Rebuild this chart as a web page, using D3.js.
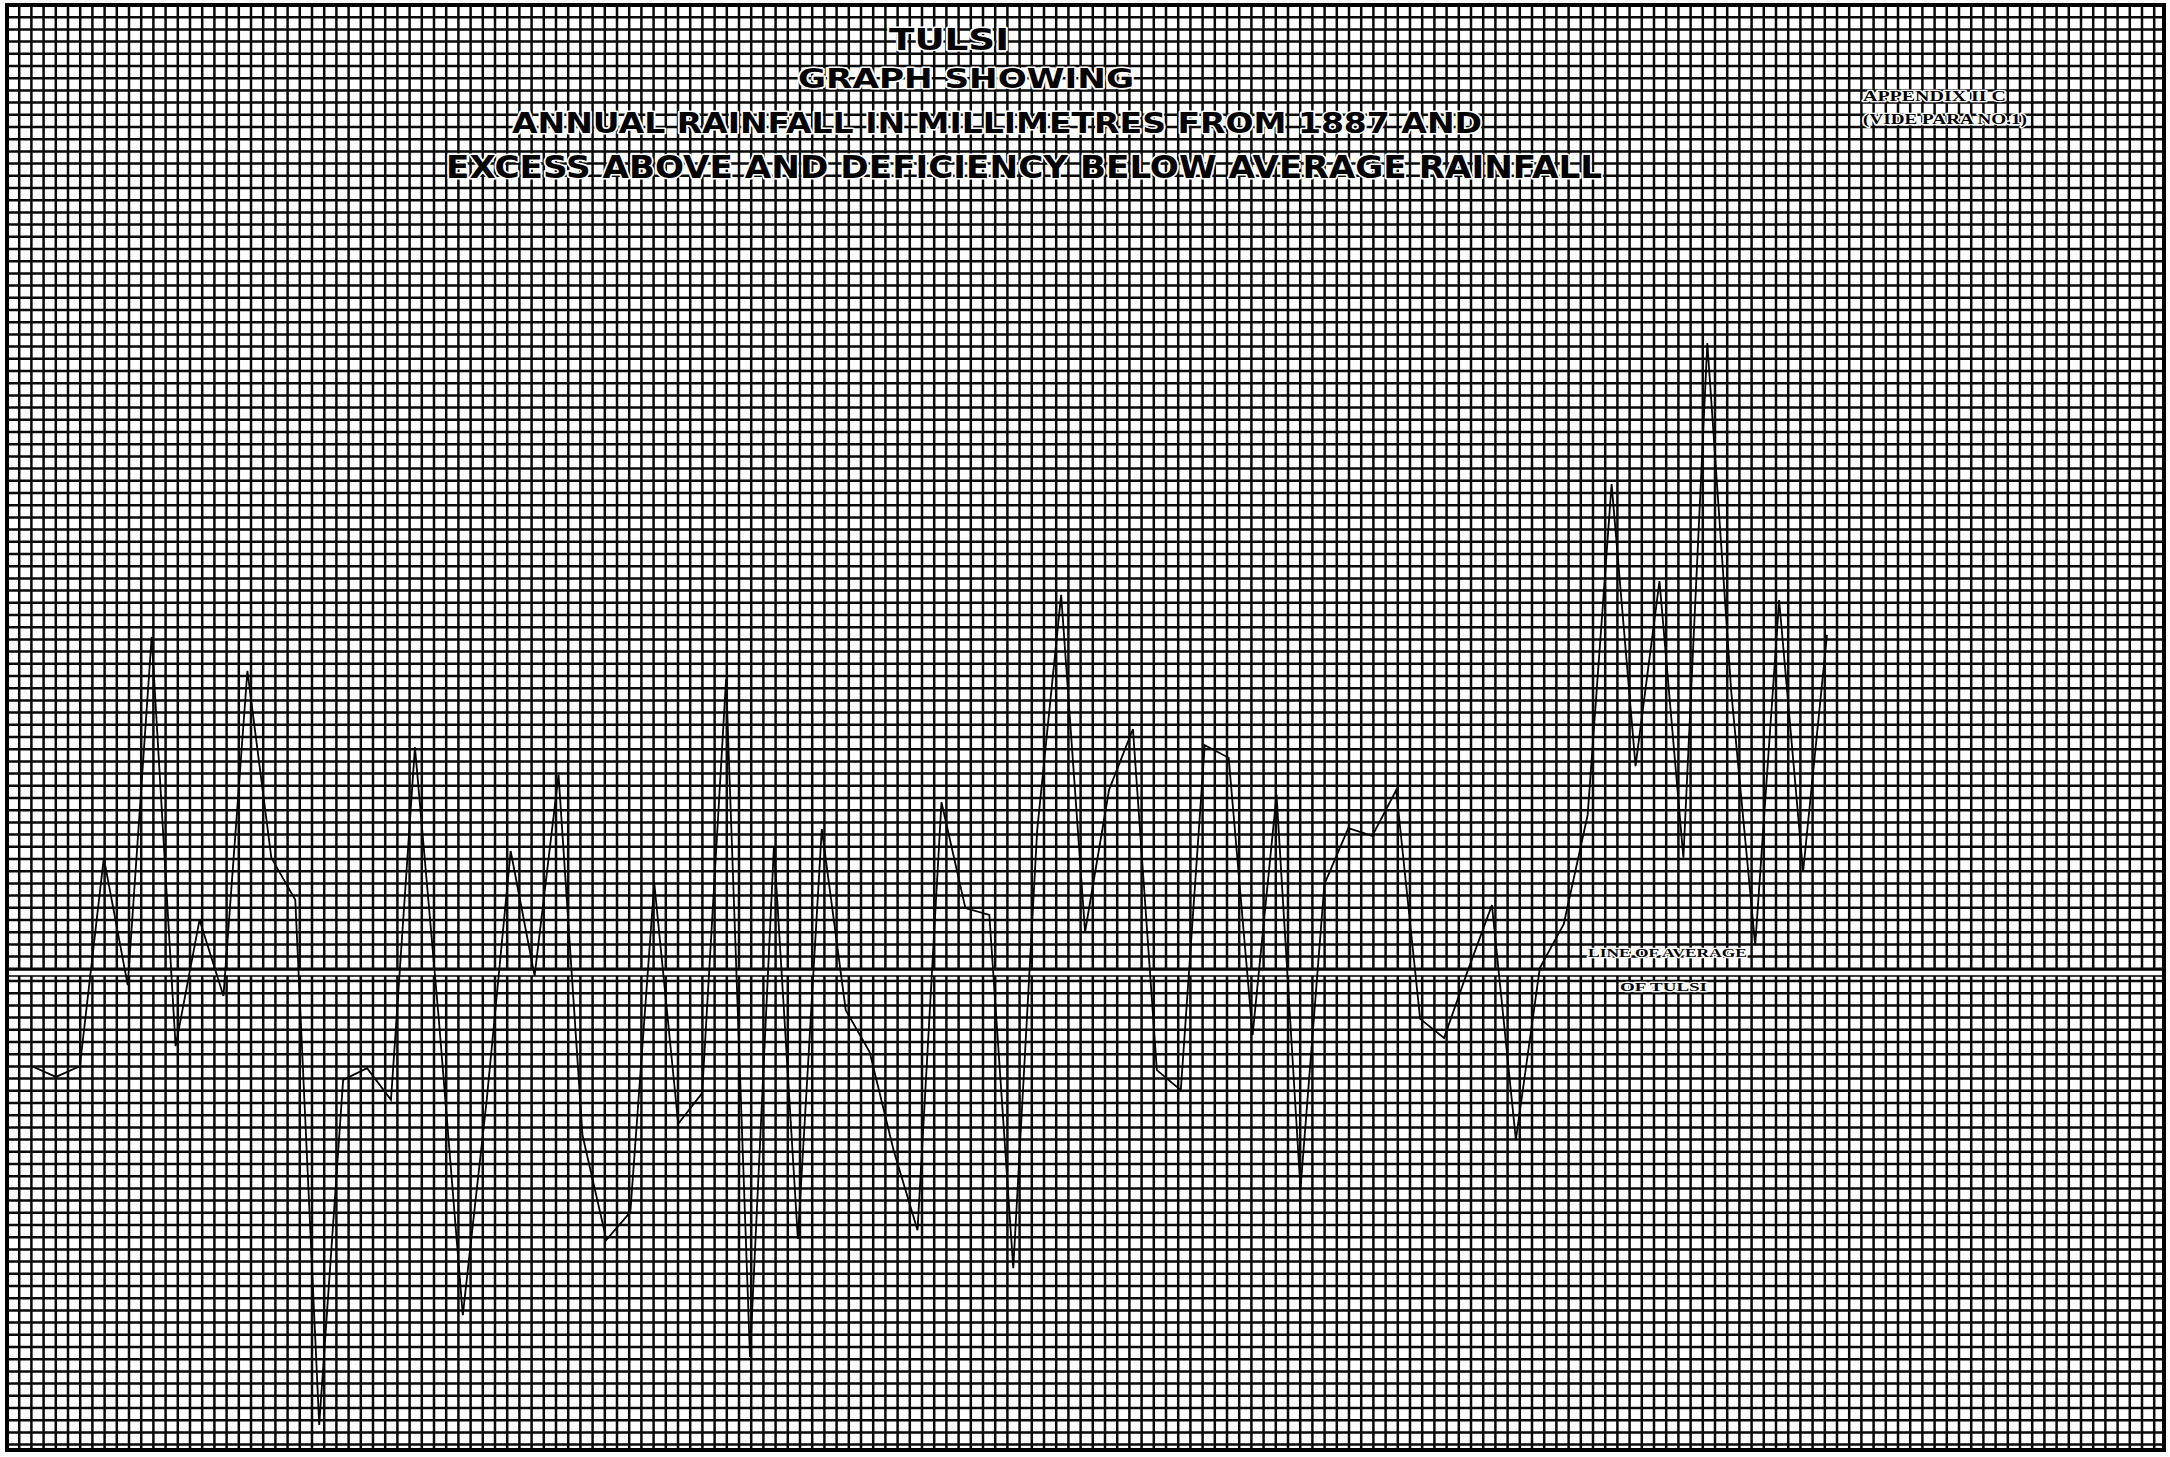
<!DOCTYPE html>
<html><head><meta charset="utf-8">
<script src="https://cdn.jsdelivr.net/npm/d3@7/dist/d3.min.js"></script>
<style>html,body{margin:0;padding:0;background:#fff;overflow:hidden}svg{display:block}</style>
</head><body>
<svg id="chart" width="2170" height="1457"></svg>
<script>
// ---- data (annual rainfall at Tulsi, mm) ----
const years = [1887,1888,1889,1890,1891,1892,1893,1894,1895,1896,1897,1898,1899,1900,1901,1902,1903,1904,1905,1906,
  1907,1908,1909,1910,1911,1912,1913,1914,1915,1916,1917,1918,1919,1920,1921,1922,1923,1924,1925,1926,
  1927,1928,1929,1930,1931,1932,1933,1934,1935,1936,1937,1938,1939,1940,1941,1942,1943,1944,1945,1946,
  1947,1948,1949,1950,1951,1952,1953,1954,1955,1956,1957,1958,1959,1960,1961,1962];
const rainfall = [2309,2287,2309,2736,2475,3189,2350,2609,2453,3119,2736,2650,1574,2281,2305,2240,2963,2404,1799,2240,
  2750,2494,2906,2168,1953,2010,2684,2191,2254,3102,1713,2760,1955,2795,2424,2338,2137,1973,2850,2633,
  2619,1895,2793,3275,2584,2875,3000,2301,2260,2967,2941,2373,2865,2057,2682,2797,2781,2875,2406,2367,
  2506,2639,2158,2510,2600,2824,3502,2924,3303,2736,3791,3076,2557,3264,2707,3193];
const averageRainfall = 2500;
const titleLines = ["TULSI", "GRAPH SHOWING", "ANNUAL RAINFALL IN MILLIMETRES FROM 1887 AND",
  "EXCESS  ABOVE AND DEFICIENCY  BELOW AVERAGE  RAINFALL"];
const appendixLines = ["APPENDIX  II C", "(VIDE PARA NO.1)"];
const averageLabels = ["LINE  OF  AVERAGE", "OF TULSI"];

// ---- layout ----
const W = 2170, H = 1457;
const frame = {x0: 7, y0: 5, x1: 2164, y1: 1450};
const cell = 12.2;
const svg = d3.select("#chart");

const x = d3.scaleLinear().domain([1887, 1962]).range([32, 1827]);
const y = d3.scaleLinear().domain([1500, 4500]).range([973 + 1000 * cell / 25, 973 - 2000 * cell / 25]);

svg.append("rect").attr("width", W).attr("height", H).attr("fill", "#fff");

// graph paper grid
const gridX = d3.range(frame.x0 + cell, frame.x1 - 2, cell);
const gridY = d3.range(frame.y0 + cell, frame.y1 - 2, cell);
const grid = svg.append("g").attr("stroke", "#0a0a0a").attr("stroke-width", 2.5);
grid.selectAll("line.v").data(gridX).join("line").attr("class", "v")
  .attr("x1", d => d).attr("x2", d => d).attr("y1", frame.y0).attr("y2", frame.y1);
grid.selectAll("line.h").data(gridY).join("line").attr("class", "h")
  .attr("y1", d => d).attr("y2", d => d).attr("x1", frame.x0).attr("x2", frame.x1);

// frame
svg.append("rect").attr("x", frame.x0).attr("y", frame.y0)
  .attr("width", frame.x1 - frame.x0).attr("height", frame.y1 - frame.y0)
  .attr("fill", "none").attr("stroke", "#000").attr("stroke-width", 4);

// average line (double thin line over a cleared band)
const ay = y(averageRainfall);
svg.append("line").attr("x1", frame.x0 + 2).attr("x2", frame.x1 - 2).attr("y1", ay).attr("y2", ay)
  .attr("stroke", "#fff").attr("stroke-width", 6);
[-3, 3].forEach(o => svg.append("line").attr("x1", frame.x0 + 2).attr("x2", frame.x1 - 2)
  .attr("y1", ay + o).attr("y2", ay + o).attr("stroke", "#000").attr("stroke-width", 1.3));

// rainfall line
const line = d3.line().x((d, i) => x(years[i])).y(d => y(d));
svg.append("path").datum(rainfall).attr("d", line)
  .attr("fill", "none").attr("stroke", "#000").attr("stroke-width", 1.8).attr("stroke-linejoin", "miter");

// text helper
function label(txt, xx, yy, size, len, family, halo) {
  return svg.append("text").text(txt).attr("x", xx).attr("y", yy)
    .attr("font-family", family).attr("font-weight", "bold").attr("font-size", size)
    .attr("textLength", len).attr("lengthAdjust", "spacingAndGlyphs")
    .attr("fill", "#000").attr("stroke", "#fff").attr("stroke-width", halo)
    .attr("paint-order", "stroke").attr("stroke-linejoin", "round");
}
const titleSpec = [
  {x: 889, y: 50, s: 30, w: 120},
  {x: 798, y: 88, s: 27, w: 336},
  {x: 512, y: 133, s: 29, w: 970},
  {x: 446, y: 178, s: 32, w: 1156}
];
titleLines.forEach((t, i) => label(t, titleSpec[i].x, titleSpec[i].y, titleSpec[i].s, titleSpec[i].w, "'DejaVu Sans Condensed','DejaVu Sans',sans-serif", 3));

const appSpec = [{x: 1863, y: 101, w: 143}, {x: 1863, y: 124, w: 164}];
appendixLines.forEach((t, i) => label(t, appSpec[i].x, appSpec[i].y, 14, appSpec[i].w, "'Liberation Serif',serif", 2.5));

const avgSpec = [{x: 1588, y: 957, w: 159}, {x: 1620, y: 991, w: 87}];
averageLabels.forEach((t, i) => label(t, avgSpec[i].x, avgSpec[i].y, 13, avgSpec[i].w, "'Liberation Serif',serif", 2.5));
</script>
</body></html>
